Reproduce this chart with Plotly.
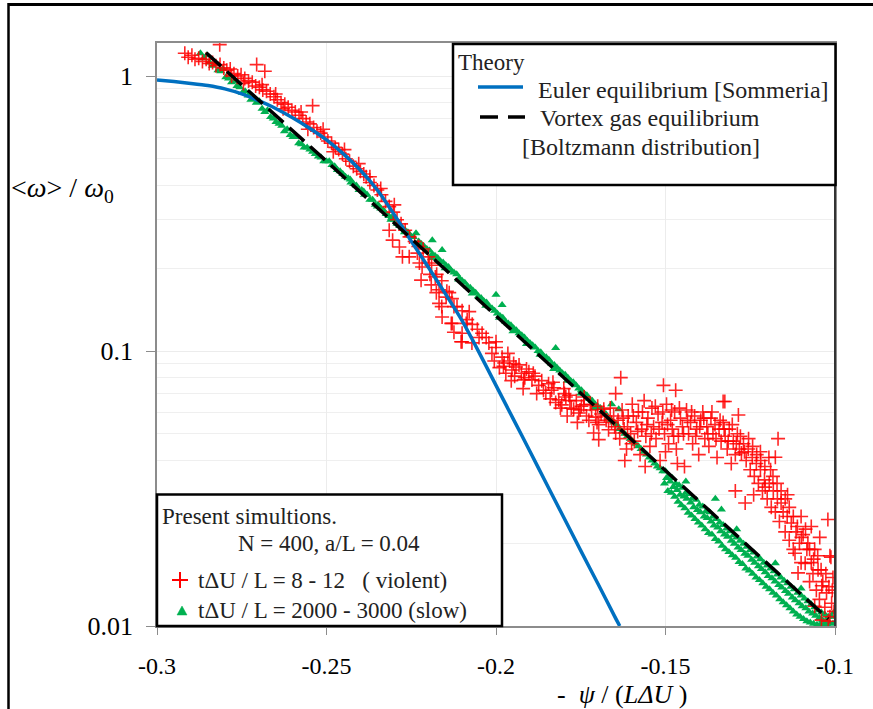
import plotly.graph_objects as go

# ---------------- data ----------------
euler_x = [-0.300, -0.295, -0.290, -0.285, -0.280, -0.275, -0.270, -0.265, -0.260, -0.255,
           -0.250, -0.245, -0.240, -0.235, -0.230, -0.225, -0.220, -0.215, -0.210, -0.205,
           -0.200, -0.195, -0.190, -0.185, -0.180, -0.175, -0.170, -0.165, -0.1635]
euler_y = [0.968, 0.955, 0.940, 0.923, 0.898, 0.861, 0.813, 0.762, 0.705, 0.646,
           0.586, 0.521, 0.454, 0.385, 0.313, 0.251, 0.202, 0.162, 0.129, 0.0989,
           0.075, 0.0569, 0.0432, 0.0327, 0.0248, 0.0188, 0.0143, 0.01084, 0.0100]

vortex_x = [-0.2855, -0.25, -0.20, -0.15, -0.102]
vortex_y = [1.215, 0.490, 0.1343, 0.0368, 0.0106]

violent_pts = [
    (-0.2918, 1.21), (-0.2908, 1.17), (-0.2897, 1.19), (-0.2888, 1.15), (-0.2877, 1.16), (-0.2866, 1.13),
    (-0.2855, 1.15), (-0.2846, 1.11), (-0.2815, 1.30), (-0.2836, 1.12), (-0.2826, 1.09), (-0.2814, 1.10),
    (-0.2803, 1.07), (-0.2794, 1.05), (-0.2784, 1.06), (-0.2773, 1.02), (-0.2762, 1.00), (-0.2752, 1.01),
    (-0.2741, 0.98), (-0.2730, 0.96), (-0.2719, 0.95), (-0.2706, 1.10), (-0.2682, 1.04), (-0.2709, 0.92),
    (-0.2698, 0.91), (-0.2688, 0.89), (-0.2677, 0.88), (-0.2666, 0.86), (-0.2655, 0.84), (-0.2645, 0.82),
    (-0.2634, 0.80), (-0.2623, 0.79), (-0.2613, 0.77), (-0.2602, 0.75), (-0.2592, 0.74), (-0.2581, 0.72),
    (-0.2570, 0.70), (-0.2560, 0.68), (-0.2549, 0.67), (-0.2541, 0.78), (-0.2538, 0.65), (-0.2528, 0.63),
    (-0.2517, 0.62), (-0.2506, 0.60), (-0.2496, 0.58), (-0.2485, 0.57), (-0.2474, 0.55), (-0.2464, 0.54),
    (-0.2453, 0.52), (-0.2443, 0.50), (-0.2432, 0.49), (-0.2421, 0.47), (-0.2411, 0.46), (-0.2400, 0.45),
    (-0.2390, 0.44), (-0.2383, 0.43), (-0.2372, 0.41), (-0.2360, 0.40), (-0.2350, 0.385), (-0.2338, 0.37),
    (-0.2326, 0.35), (-0.2315, 0.335), (-0.2303, 0.32), (-0.2292, 0.30), (-0.2280, 0.29), (-0.2268, 0.275),
    (-0.2255, 0.26), (-0.2240, 0.25), (-0.2229, 0.24),
    (-0.2780, 1.00), (-0.2745, 0.94), (-0.2690, 0.93), (-0.2650, 0.86), (-0.2628, 0.76), (-0.2575, 0.74),
    (-0.2555, 0.64), (-0.2510, 0.64), (-0.2480, 0.53), (-0.2447, 0.54), (-0.2405, 0.48), (-0.2372, 0.43),
    (-0.2340, 0.39), (-0.2300, 0.34),
    (-0.2215, 0.235), (-0.2200, 0.22), (-0.2190, 0.205), (-0.2175, 0.19), (-0.2160, 0.18), (-0.2145, 0.165),
    (-0.2130, 0.155), (-0.2115, 0.145), (-0.2100, 0.14), (-0.2085, 0.13), (-0.2079, 0.139), (-0.2070, 0.125),
    (-0.2055, 0.12), (-0.2041, 0.116),
    (-0.2315, 0.275), (-0.2305, 0.253), (-0.2285, 0.239), (-0.2276, 0.22), (-0.2256, 0.22), (-0.2226, 0.209),
    (-0.2232, 0.227), (-0.2218, 0.202), (-0.2197, 0.209), (-0.2179, 0.186), (-0.2168, 0.167), (-0.2147, 0.157),
    (-0.2138, 0.163), (-0.2124, 0.145), (-0.2159, 0.133), (-0.2132, 0.126), (-0.2088, 0.126), (-0.2100, 0.116),
    (-0.2050, 0.112), (-0.2021, 0.107), (-0.2000, 0.108), (-0.2221, 0.181), (-0.2103, 0.108), (-0.2071, 0.107),
    (-0.2029, 0.112), (-0.2012, 0.098), (-0.2000, 0.103), (-0.2160, 0.145), (-0.2195, 0.19), (-0.2191, 0.174),
    (-0.2176, 0.163), (-0.2168, 0.149), (-0.2129, 0.126), (-0.2124, 0.117), (-0.2100, 0.108),
    (-0.1982, 0.095), (-0.1976, 0.0904), (-0.1971, 0.083), (-0.1960, 0.092), (-0.1953, 0.0853), (-0.1945, 0.081),
    (-0.1941, 0.0875), (-0.1932, 0.089), (-0.1925, 0.083), (-0.1918, 0.0785), (-0.1910, 0.086), (-0.1903, 0.084),
    (-0.1894, 0.0785), (-0.1885, 0.081), (-0.1874, 0.075), (-0.1865, 0.078), (-0.1853, 0.0703), (-0.1845, 0.076),
    (-0.1836, 0.072), (-0.1829, 0.0735), (-0.1824, 0.065), (-0.1815, 0.0664), (-0.1806, 0.0637), (-0.1798, 0.070),
    (-0.1794, 0.068), (-0.1785, 0.069), (-0.1778, 0.062), (-0.1771, 0.0614), (-0.1763, 0.066), (-0.1756, 0.0595),
    (-0.1748, 0.063), (-0.1741, 0.0637), (-0.1733, 0.058), (-0.1726, 0.0560), (-0.1718, 0.061), (-0.1712, 0.0503),
    (-0.1706, 0.0575), (-0.1697, 0.0539), (-0.1690, 0.059), (-0.1682, 0.0614), (-0.1675, 0.056), (-0.1668, 0.0517),
    (-0.1659, 0.0550), (-0.1653, 0.058), (-0.1647, 0.0503), (-0.1697, 0.0476), (-0.1632, 0.080), (-0.1647, 0.070),
    (-0.1880, 0.070), (-0.1840, 0.067), (-0.1790, 0.058), (-0.1760, 0.055), (-0.1920, 0.073), (-0.1955, 0.078),
    (-0.1990, 0.087), (-0.2005, 0.092), (-0.1965, 0.098), (-0.1800, 0.073), (-0.1740, 0.068), (-0.1700, 0.063),
    (-0.1978, 0.088), (-0.1948, 0.090), (-0.1915, 0.080), (-0.1890, 0.083), (-0.1860, 0.072), (-0.1832, 0.077),
    (-0.1810, 0.062), (-0.1782, 0.066), (-0.1752, 0.061), (-0.1722, 0.064), (-0.1702, 0.055), (-0.1680, 0.058),
    (-0.1663, 0.062), (-0.1650, 0.053),
    (-0.1640, 0.056), (-0.1635, 0.048), (-0.1628, 0.061), (-0.1622, 0.052), (-0.1615, 0.044), (-0.1610, 0.058),
    (-0.1603, 0.050), (-0.1598, 0.064), (-0.1592, 0.047), (-0.1586, 0.055), (-0.1580, 0.060), (-0.1575, 0.042),
    (-0.1570, 0.052), (-0.1563, 0.066), (-0.1558, 0.049), (-0.1552, 0.057), (-0.1546, 0.045), (-0.1540, 0.062),
    (-0.1535, 0.053), (-0.1528, 0.048), (-0.1522, 0.059), (-0.1516, 0.040), (-0.1510, 0.055), (-0.1506, 0.075),
    (-0.1503, 0.050), (-0.1497, 0.064), (-0.1491, 0.046), (-0.1485, 0.056), (-0.1480, 0.052), (-0.1470, 0.072),
    (-0.1473, 0.060), (-0.1468, 0.044), (-0.1462, 0.049), (-0.1456, 0.057), (-0.1450, 0.053), (-0.1444, 0.038),
    (-0.1438, 0.061), (-0.1432, 0.050), (-0.1426, 0.055), (-0.1420, 0.046), (-0.1414, 0.058), (-0.1408, 0.052),
    (-0.1402, 0.042), (-0.1396, 0.056), (-0.1390, 0.060), (-0.1384, 0.048), (-0.1378, 0.053), (-0.1372, 0.045),
    (-0.1366, 0.057), (-0.1360, 0.050), (-0.1354, 0.054), (-0.1348, 0.041), (-0.1342, 0.052), (-0.1336, 0.047),
    (-0.1330, 0.0655), (-0.1325, 0.0655), (-0.1330, 0.055), (-0.1324, 0.049), (-0.1318, 0.044), (-0.1312, 0.052),
    (-0.1306, 0.039), (-0.1300, 0.047), (-0.1294, 0.031), (-0.1294, 0.042), (-0.1288, 0.050), (-0.1285, 0.0585),
    (-0.1282, 0.044), (-0.1620, 0.040), (-0.1560, 0.038), (-0.1600, 0.046), (-0.1500, 0.043), (-0.1465, 0.039),
    (-0.1625, 0.057), (-0.1612, 0.053), (-0.1595, 0.058), (-0.1582, 0.051), (-0.1568, 0.060), (-0.1555, 0.054),
    (-0.1542, 0.050), (-0.1530, 0.063), (-0.1519, 0.052), (-0.1508, 0.060), (-0.1494, 0.054), (-0.1482, 0.061),
    (-0.1476, 0.049), (-0.1459, 0.062), (-0.1447, 0.050), (-0.1435, 0.056), (-0.1423, 0.060), (-0.1411, 0.049),
    (-0.1399, 0.053), (-0.1387, 0.057), (-0.1375, 0.050), (-0.1363, 0.060), (-0.1351, 0.048), (-0.1339, 0.056),
    (-0.1327, 0.052), (-0.1315, 0.047), (-0.1303, 0.054), (-0.1291, 0.046), (-0.1279, 0.049), (-0.1267, 0.043),
    (-0.1255, 0.048), (-0.1243, 0.045), (-0.1231, 0.042), (-0.1219, 0.040), (-0.1207, 0.038), (-0.1195, 0.041),
    (-0.1183, 0.035), (-0.1171, 0.033), (-0.1159, 0.031), (-0.1147, 0.029), (-0.1135, 0.027), (-0.1123, 0.025),
    (-0.1111, 0.023), (-0.1099, 0.021), (-0.1087, 0.0225), (-0.1075, 0.019), (-0.1063, 0.0175), (-0.1051, 0.018),
    (-0.1039, 0.014), (-0.1027, 0.0155),
    (-0.1276, 0.0426), (-0.1270, 0.046), (-0.1265, 0.028), (-0.1262, 0.040), (-0.1256, 0.044), (-0.1250, 0.037),
    (-0.1244, 0.041), (-0.1238, 0.035), (-0.1232, 0.039), (-0.1226, 0.033), (-0.1220, 0.037), (-0.1214, 0.031),
    (-0.1208, 0.034), (-0.1206, 0.032), (-0.1200, 0.029), (-0.1194, 0.033), (-0.1188, 0.027), (-0.1182, 0.031),
    (-0.1176, 0.0411), (-0.1168, 0.048), (-0.1176, 0.026), (-0.1170, 0.029), (-0.1164, 0.024), (-0.1159, 0.028),
    (-0.1153, 0.026), (-0.1147, 0.022), (-0.1141, 0.025), (-0.1135, 0.0205), (-0.1129, 0.0237), (-0.1123, 0.019),
    (-0.1118, 0.0184), (-0.1115, 0.022), (-0.1109, 0.0156), (-0.1105, 0.020), (-0.1100, 0.017), (-0.1094, 0.0215),
    (-0.1088, 0.0169), (-0.1083, 0.019), (-0.1080, 0.0200), (-0.1075, 0.0145), (-0.1070, 0.017), (-0.1065, 0.0155),
    (-0.1060, 0.0190), (-0.1055, 0.0135), (-0.1050, 0.016), (-0.1046, 0.0125), (-0.1041, 0.016), (-0.1036, 0.0145),
    (-0.1030, 0.0117), (-0.1025, 0.0132), (-0.1021, 0.0244), (-0.1018, 0.0139), (-0.1015, 0.0108), (-0.1012, 0.0178),
    (-0.1010, 0.0121), (-0.1006, 0.0150), (-0.1003, 0.0113), (-0.1020, 0.0104), (-0.1040, 0.0105), (-0.1060, 0.0118),
    (-0.1240, 0.030), (-0.1220, 0.043), (-0.1190, 0.037), (-0.1140, 0.030), (-0.1100, 0.025), (-0.1070, 0.023),
    (-0.1045, 0.021), (-0.1015, 0.018), (-0.1008, 0.0135),
]

slow_pts = [
    (-0.2872, 1.21), (-0.2862, 1.16), (-0.2853, 1.19), (-0.2845, 1.12), (-0.2836, 1.09), (-0.2828, 1.11),
    (-0.2820, 1.05), (-0.2812, 1.04), (-0.2805, 1.06), (-0.2797, 0.99), (-0.2789, 0.98), (-0.2780, 0.95),
    (-0.2772, 0.96), (-0.2764, 0.92), (-0.2756, 0.91), (-0.2748, 0.87), (-0.2740, 0.88), (-0.2731, 0.85),
    (-0.2723, 0.82), (-0.2715, 0.83), (-0.2707, 0.80), (-0.2698, 0.81), (-0.2690, 0.76), (-0.2682, 0.74),
    (-0.2674, 0.75), (-0.2665, 0.71), (-0.2657, 0.70), (-0.2649, 0.68), (-0.2640, 0.67), (-0.2632, 0.66),
    (-0.2624, 0.63), (-0.2616, 0.64), (-0.2607, 0.61), (-0.2599, 0.60), (-0.2591, 0.60), (-0.2582, 0.57),
    (-0.2574, 0.565), (-0.2566, 0.55), (-0.2557, 0.55), (-0.2549, 0.54), (-0.2541, 0.53), (-0.2533, 0.52),
    (-0.2524, 0.51), (-0.2516, 0.505), (-0.2508, 0.49),
    (-0.2500, 0.49), (-0.2492, 0.49), (-0.2484, 0.475), (-0.2476, 0.47), (-0.2468, 0.455), (-0.2460, 0.45),
    (-0.2452, 0.44), (-0.2444, 0.43), (-0.2436, 0.425), (-0.2428, 0.41), (-0.2420, 0.405), (-0.2412, 0.40),
    (-0.2404, 0.385), (-0.2396, 0.385), (-0.2388, 0.37), (-0.2380, 0.37), (-0.2372, 0.355), (-0.2364, 0.355),
    (-0.2356, 0.34), (-0.2348, 0.34), (-0.2340, 0.33), (-0.2332, 0.325), (-0.2324, 0.315), (-0.2316, 0.31),
    (-0.2308, 0.305), (-0.2300, 0.30),
    (-0.2292, 0.29), (-0.2284, 0.285), (-0.2276, 0.28), (-0.2268, 0.275), (-0.2260, 0.27), (-0.2252, 0.262),
    (-0.2244, 0.26), (-0.2236, 0.268), (-0.2228, 0.25), (-0.2220, 0.245), (-0.2212, 0.24), (-0.2204, 0.235),
    (-0.2196, 0.232), (-0.2188, 0.253), (-0.2188, 0.225), (-0.2180, 0.222), (-0.2172, 0.218), (-0.2164, 0.212),
    (-0.2159, 0.233), (-0.2156, 0.21), (-0.2148, 0.205), (-0.2140, 0.202), (-0.2132, 0.196), (-0.2124, 0.193),
    (-0.2116, 0.19), (-0.2108, 0.184), (-0.2100, 0.18),
    (-0.2092, 0.177), (-0.2084, 0.172), (-0.2076, 0.17), (-0.2068, 0.166), (-0.2060, 0.163), (-0.2052, 0.158),
    (-0.2044, 0.156), (-0.2036, 0.152), (-0.2028, 0.15), (-0.2020, 0.145), (-0.2012, 0.143), (-0.2004, 0.14),
    (-0.2000, 0.16), (-0.1996, 0.137), (-0.1988, 0.134), (-0.1982, 0.147), (-0.1980, 0.132), (-0.1972, 0.128),
    (-0.1964, 0.126), (-0.1956, 0.124), (-0.1948, 0.121), (-0.1940, 0.119), (-0.1932, 0.116), (-0.1924, 0.114),
    (-0.1916, 0.112), (-0.1908, 0.109), (-0.1900, 0.107),
    (-0.1892, 0.105), (-0.1884, 0.103), (-0.1876, 0.10), (-0.1868, 0.099), (-0.1860, 0.096), (-0.1852, 0.095),
    (-0.1844, 0.093), (-0.1836, 0.09), (-0.1828, 0.089), (-0.1824, 0.1025), (-0.1820, 0.087), (-0.1812, 0.085),
    (-0.1804, 0.083), (-0.1796, 0.082), (-0.1788, 0.08), (-0.1780, 0.078), (-0.1772, 0.077), (-0.1764, 0.075),
    (-0.1756, 0.073), (-0.1748, 0.072), (-0.1740, 0.07), (-0.1732, 0.069), (-0.1724, 0.067), (-0.1716, 0.066),
    (-0.1708, 0.064), (-0.1700, 0.063),
    (-0.1692, 0.062), (-0.1684, 0.06), (-0.1676, 0.059), (-0.1668, 0.057), (-0.1660, 0.056), (-0.1659, 0.064),
    (-0.1652, 0.055), (-0.1644, 0.054), (-0.1638, 0.0614), (-0.1636, 0.052), (-0.1628, 0.051), (-0.1620, 0.05),
    (-0.1612, 0.049), (-0.1604, 0.048), (-0.1596, 0.047), (-0.1588, 0.046), (-0.1580, 0.045), (-0.1572, 0.044),
    (-0.1564, 0.043), (-0.1556, 0.042), (-0.1548, 0.041), (-0.1540, 0.040), (-0.1532, 0.039), (-0.1524, 0.038),
    (-0.1516, 0.0375), (-0.1508, 0.0365),
    (-0.1950, 0.118), (-0.1910, 0.106), (-0.1870, 0.097), (-0.1830, 0.086), (-0.1790, 0.078), (-0.1750, 0.07),
    (-0.1710, 0.062), (-0.2150, 0.20), (-0.2110, 0.182), (-0.2070, 0.162), (-0.2030, 0.146), (-0.1990, 0.132),
    (-0.2270, 0.27), (-0.2230, 0.245), (-0.2190, 0.218), (-0.2350, 0.335), (-0.2310, 0.30), (-0.2430, 0.42),
    (-0.2390, 0.38),
    # widening band below the dashed line
    (-0.1500, 0.0365), (-0.1497, 0.0345), (-0.1503, 0.0330), (-0.1490, 0.0352), (-0.1486, 0.0335), (-0.1493, 0.0310),
    (-0.1480, 0.0345), (-0.1477, 0.0320), (-0.1483, 0.0305), (-0.1470, 0.0330), (-0.1466, 0.0312), (-0.1473, 0.0295),
    (-0.1460, 0.0325), (-0.1457, 0.0300), (-0.1463, 0.0283), (-0.1450, 0.0318), (-0.1446, 0.0296), (-0.1453, 0.0275),
    (-0.1440, 0.0305), (-0.1437, 0.0290), (-0.1443, 0.0268), (-0.1430, 0.0302), (-0.1426, 0.0281), (-0.1433, 0.0258),
    (-0.1420, 0.0292), (-0.1417, 0.0270), (-0.1423, 0.0252), (-0.1410, 0.0288), (-0.1406, 0.0264), (-0.1413, 0.0245),
    (-0.1400, 0.0276), (-0.1397, 0.0259), (-0.1403, 0.0238), (-0.1390, 0.0272), (-0.1386, 0.0250), (-0.1393, 0.0232),
    (-0.1380, 0.0262), (-0.1377, 0.0247), (-0.1383, 0.0225), (-0.1370, 0.0259), (-0.1366, 0.0240), (-0.1373, 0.0218),
    (-0.1360, 0.0250), (-0.1357, 0.0232), (-0.1363, 0.0215), (-0.1350, 0.0245), (-0.1346, 0.0228), (-0.1353, 0.0207),
    (-0.1340, 0.0238), (-0.1337, 0.0221), (-0.1343, 0.0203), (-0.1330, 0.0233), (-0.1326, 0.0215), (-0.1333, 0.0196),
    (-0.1320, 0.0226), (-0.1317, 0.0211), (-0.1323, 0.0190), (-0.1310, 0.0221), (-0.1306, 0.0204), (-0.1313, 0.0186),
    (-0.1300, 0.0214), (-0.1297, 0.0199), (-0.1303, 0.0181), (-0.1290, 0.0210), (-0.1286, 0.0193), (-0.1293, 0.0177),
    (-0.1280, 0.0204), (-0.1277, 0.0189), (-0.1283, 0.0171), (-0.1270, 0.0199), (-0.1266, 0.0183), (-0.1273, 0.0168),
    (-0.1260, 0.0194), (-0.1257, 0.0180), (-0.1263, 0.0162), (-0.1250, 0.0189), (-0.1246, 0.0174), (-0.1253, 0.0159),
    (-0.1240, 0.0185), (-0.1237, 0.0170), (-0.1243, 0.0155), (-0.1230, 0.0179), (-0.1226, 0.0165), (-0.1233, 0.0150),
    (-0.1220, 0.0175), (-0.1217, 0.0161), (-0.1223, 0.0147), (-0.1210, 0.0170), (-0.1206, 0.0157), (-0.1213, 0.0143),
    (-0.1200, 0.0166), (-0.1197, 0.0152), (-0.1203, 0.0139), (-0.1190, 0.0162), (-0.1186, 0.0149), (-0.1193, 0.0136),
    (-0.1180, 0.0158), (-0.1177, 0.0145), (-0.1183, 0.0132), (-0.1170, 0.0154), (-0.1166, 0.0141), (-0.1173, 0.0129),
    (-0.1160, 0.0150), (-0.1157, 0.0138), (-0.1163, 0.0125), (-0.1150, 0.0146), (-0.1146, 0.0134), (-0.1153, 0.0122),
    (-0.1140, 0.0143), (-0.1137, 0.0131), (-0.1143, 0.0119), (-0.1130, 0.0139), (-0.1126, 0.0127), (-0.1133, 0.0116),
    (-0.1120, 0.0136), (-0.1117, 0.0124), (-0.1123, 0.0113), (-0.1110, 0.0132), (-0.1106, 0.0121), (-0.1113, 0.0110),
    (-0.1100, 0.0129), (-0.1097, 0.0118), (-0.1103, 0.0108), (-0.1090, 0.0126), (-0.1086, 0.0116), (-0.1093, 0.0106),
    (-0.1080, 0.0123), (-0.1077, 0.0113), (-0.1083, 0.0104), (-0.1070, 0.0120), (-0.1066, 0.0111), (-0.1073, 0.0103),
    (-0.1060, 0.0117), (-0.1057, 0.0109), (-0.1063, 0.0102), (-0.1050, 0.0114), (-0.1046, 0.0107), (-0.1053, 0.0101),
    (-0.1040, 0.0112), (-0.1037, 0.0105), (-0.1043, 0.0101), (-0.1030, 0.0110), (-0.1026, 0.0104), (-0.1033, 0.0101),
    (-0.1020, 0.0108), (-0.1017, 0.0103), (-0.1023, 0.0101), (-0.1010, 0.0108), (-0.1006, 0.0102), (-0.1003, 0.0112),
    (-0.1353, 0.0290), (-0.1335, 0.0265), (-0.1176, 0.0169), (-0.1290, 0.0225), (-0.1440, 0.0335), (-0.1100, 0.0137),
]

x_tickvals = [-0.3, -0.25, -0.2, -0.15, -0.1]
x_ticktext = ["-0.3", "-0.25", "-0.2", "-0.15", "-0.1"]
y_tickvals = [0.01, 0.1, 1]
y_ticktext = ["0.01", "0.1", "1"]
y_minor = [0.02, 0.03, 0.04, 0.05, 0.06, 0.07, 0.08, 0.09, 0.2, 0.3, 0.4, 0.5, 0.6, 0.7, 0.8, 0.9]

# ---------------- figure ----------------
SERIF = "Liberation Serif"
BLUE = "#0070c0"
GREEN = "#00b050"

fig = go.Figure()
fig.add_trace(go.Scatter(
    x=[p[0] for p in slow_pts], y=[p[1] for p in slow_pts], mode="markers",
    marker=dict(symbol="triangle-up", size=8, color=GREEN, line=dict(width=0)),
    showlegend=False, hoverinfo="skip"))
fig.add_trace(go.Scatter(
    x=[p[0] for p in violent_pts], y=[p[1] for p in violent_pts], mode="markers",
    marker=dict(symbol="cross-thin", size=10, line=dict(width=1.6, color="rgba(255,0,0,0.85)")),
    showlegend=False, hoverinfo="skip"))
fig.add_trace(go.Scatter(
    x=euler_x, y=euler_y, mode="lines",
    line=dict(color=BLUE, width=3.5, shape="spline", smoothing=0.6),
    showlegend=False, hoverinfo="skip"))
fig.add_trace(go.Scatter(
    x=vortex_x, y=vortex_y, mode="lines",
    line=dict(color="black", width=3.5, dash="20px,8px"),
    showlegend=False, hoverinfo="skip"))

W, H = 873, 709
L, R, T, B = 157, 38, 43, 83
PW, PH = W - L - R, H - T - B


def px(xp):
    return (xp - L) / PW


def py(yp):
    return (H - B - yp) / PH


shapes = []
# outer frame (top and left)
shapes.append(dict(type="line", xref="paper", yref="paper", x0=px(8), x1=px(873), y0=py(4.5), y1=py(4.5),
                   line=dict(color="black", width=3)))
shapes.append(dict(type="line", xref="paper", yref="paper", x0=px(8.5), x1=px(8.5), y0=py(3), y1=py(709),
                   line=dict(color="black", width=2.5)))
# dark right border of plot area
shapes.append(dict(type="line", xref="paper", yref="paper", x0=1, x1=1, y0=0, y1=1,
                   line=dict(color="#333333", width=2)))
# Theory box
shapes.append(dict(type="rect", xref="paper", yref="paper", x0=px(453), x1=px(835.5), y0=py(185), y1=py(44),
                   line=dict(color="black", width=2.5), fillcolor="white", layer="above"))
# Present simulations box
shapes.append(dict(type="rect", xref="paper", yref="paper", x0=px(157), x1=px(502), y0=py(626), y1=py(494.5),
                   line=dict(color="black", width=2.5), fillcolor="white", layer="above"))
# legend samples in Theory box
shapes.append(dict(type="line", xref="paper", yref="paper", x0=px(478), x1=px(523), y0=py(87), y1=py(87),
                   line=dict(color=BLUE, width=3.5), layer="above"))
shapes.append(dict(type="line", xref="paper", yref="paper", x0=px(480), x1=px(498), y0=py(117), y1=py(117),
                   line=dict(color="black", width=3.5), layer="above"))
shapes.append(dict(type="line", xref="paper", yref="paper", x0=px(508), x1=px(525), y0=py(117), y1=py(117),
                   line=dict(color="black", width=3.5), layer="above"))
# legend samples in Present box
shapes.append(dict(type="line", xref="paper", yref="paper", x0=px(172), x1=px(188), y0=py(580), y1=py(580),
                   line=dict(color="red", width=2), layer="above"))
shapes.append(dict(type="line", xref="paper", yref="paper", x0=px(180), x1=px(180), y0=py(572), y1=py(588),
                   line=dict(color="red", width=2), layer="above"))
shapes.append(dict(type="path", xref="paper", yref="paper",
                   path=f"M {px(177)} {py(615)} L {px(187)} {py(615)} L {px(182)} {py(606)} Z",
                   fillcolor=GREEN, line=dict(color=GREEN, width=0.5), layer="above"))

ann = []


def text(xp, yp, s, size=23, xanchor="left", color="#222222", italic=False):
    ann.append(dict(xref="paper", yref="paper", x=px(xp), y=py(yp), text=s, showarrow=False,
                    xanchor=xanchor, yanchor="middle",
                    font=dict(family=SERIF, size=size, color=color,
                              style="italic" if italic else "normal")))


text(456, 62, "Theory", size=23)
text(536, 90, "Euler equilibrium [Sommeria]", size=24)
text(538, 118, "Vortex gas equilibrium", size=24)
text(520, 147, "[Boltzmann distribution]", size=24)
text(160, 516, "Present simultions.", size=23)
text(236, 543, "N = 400, a/L = 0.04", size=23)
text(196, 580, "tΔU / L = 8 - 12   ( violent)", size=23)
text(196, 610, "tΔU / L = 2000 - 3000 (slow)", size=23)
# axis titles
text(9, 190, "&lt;<i>ω</i>&gt; / <i>ω</i><sub>0</sub>", size=28, color="black")
text(622, 694, "-  <i>ψ</i> / (<i>L</i><i>Δ</i><i>U</i> )", size=26, xanchor="center", color="black")

fig.update_layout(
    width=W, height=H,
    margin=dict(l=L, r=R, t=T, b=B, pad=0),
    paper_bgcolor="white", plot_bgcolor="white",
    shapes=shapes, annotations=ann,
    xaxis=dict(range=[-0.3, -0.1], tickvals=x_tickvals, ticktext=x_ticktext,
               showgrid=True, gridcolor="#ececec", gridwidth=1,
               showline=True, linecolor="#8c8c8c", linewidth=1.5, mirror=True,
               ticks="outside", ticklen=7, tickcolor="#8c8c8c",
               tickfont=dict(family=SERIF, size=24, color="black"),
               ticklabelstandoff=10, zeroline=False),
    yaxis=dict(type="log", range=[-2, 0.12], tickvals=y_tickvals, ticktext=y_ticktext,
               showgrid=True, gridcolor="#ececec", gridwidth=1,
               minor=dict(tickvals=y_minor, showgrid=True, gridcolor="#efefef", ticklen=0),
               showline=True, linecolor="#8c8c8c", linewidth=1.5, mirror=True,
               ticks="outside", ticklen=9, tickcolor="#8c8c8c",
               tickfont=dict(family=SERIF, size=26, color="black"),
               ticklabelstandoff=8, zeroline=False),
)

fig.write_html("out.html")
